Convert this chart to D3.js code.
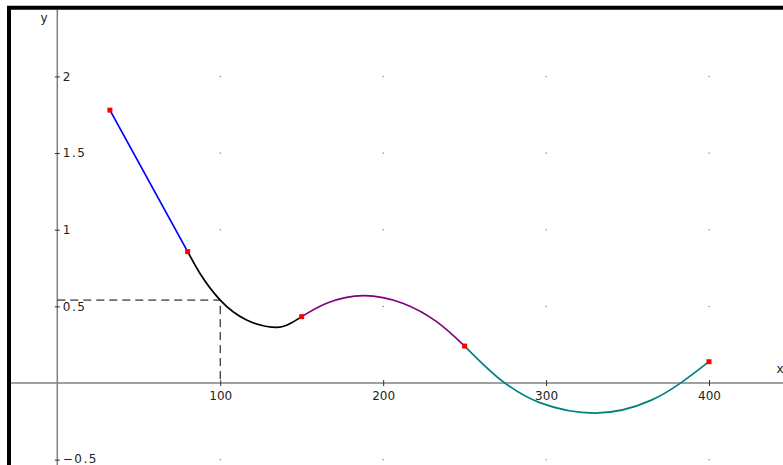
<!DOCTYPE html>
<html>
<head>
<meta charset="utf-8">
<script src="https://cdn.jsdelivr.net/npm/d3@7"></script>
<style>
  body { margin: 0; background: #fff; }
  svg { display: block; font-family: "DejaVu Sans", sans-serif; }
</style>
</head>
<body>
<div id="chart"></div>
<script>
// Chart size
const width = 783, height = 465;

// Tick values
const xTicks = [100, 200, 300, 400];
const yTicks = [-0.5, 0.5, 1, 1.5, 2];
const yTickLabels = ["\u22120.5", "0.5", "1", "1.5", "2"];

// Knots (red squares)
const knotX = [32.3, 80, 150, 250, 400];
const knotY = [1.78, 0.857, 0.433, 0.241, 0.139];

// Pieces
const seg1X = [32.3, 80];
const seg1Y = [1.78, 0.857];
const seg2X = [80, 87.5, 100, 116.2, 134.8, 150];
const seg2Y = [0.857, 0.716, 0.541, 0.411, 0.363, 0.433];
const seg3X = [150, 165.3, 188, 212, 232.8, 250];
const seg3Y = [0.433, 0.52, 0.57, 0.52, 0.40, 0.241];
const seg4X = [250, 274.7, 296.1, 330, 365, 400];
const seg4Y = [0.241, 0, -0.128, -0.196, -0.11, 0.139];
const segColors = ["#0000ff", "#000000", "#800080", "#008080"];

// Dashed guide at x = 100
const guideX = 100, guideY = 0.541;

const svg = d3.select("#chart").append("svg")
  .attr("width", width)
  .attr("height", height);

const x = d3.scaleLinear().domain([0, 400]).range([57.3, 709]);
const y = d3.scaleLinear().domain([0, 2]).range([383, 76.4]);

// Frame (top and left thick lines)
svg.append("line").attr("x1", 7).attr("x2", width).attr("y1", 7.7).attr("y2", 7.7)
  .attr("stroke", "#000").attr("stroke-width", 4);
svg.append("line").attr("x1", 9).attr("x2", 9).attr("y1", 6).attr("y2", height)
  .attr("stroke", "#000").attr("stroke-width", 4);

// Grid dots
const dotX = [100, 200, 300, 400];
const dotY = [-0.5, 0.5, 1, 1.5, 2];
svg.append("g").selectAll("rect")
  .data(d3.cross(dotX, dotY))
  .join("rect")
  .attr("x", d => x(d[0]) - 0.5)
  .attr("y", d => y(d[1]) - 0.5)
  .attr("width", 1.2)
  .attr("height", 1.2)
  .attr("fill", "#777");

// Axis lines
svg.append("line").attr("x1", 11).attr("x2", width).attr("y1", y(0)).attr("y2", y(0))
  .attr("stroke", "#808080").attr("stroke-width", 1.5);
svg.append("line").attr("x1", x(0)).attr("x2", x(0)).attr("y1", 10).attr("y2", height)
  .attr("stroke", "#808080").attr("stroke-width", 1.5);

// X axis ticks
const xAxis = svg.append("g")
  .attr("transform", `translate(0,${y(0)})`)
  .call(d3.axisBottom(x).tickValues(xTicks).tickSize(3).tickPadding(5));
xAxis.select(".domain").remove();
xAxis.selectAll(".tick line").attr("y1", -3).attr("stroke", "#333");
xAxis.selectAll(".tick text")
  .attr("font-size", 12).attr("fill", "#222")
  .attr("font-family", "DejaVu Sans, sans-serif");

// Y axis ticks
const yAxis = svg.append("g")
  .attr("transform", `translate(${x(0)},0)`)
  .call(d3.axisRight(y).tickValues(yTicks).tickSize(2.5).tickPadding(3)
    .tickFormat((d, i) => yTickLabels[i]));
yAxis.select(".domain").remove();
yAxis.selectAll(".tick line").attr("x1", -2.5).attr("stroke", "#333");
yAxis.selectAll(".tick text")
  .attr("font-size", 12).attr("fill", "#222")
  .attr("letter-spacing", d => Number.isInteger(d) ? 0 : 1.5)
  .attr("font-family", "DejaVu Sans, sans-serif");
yAxis.selectAll(".tick text").filter(d => d < 0).attr("dy", "0.2em");

// Axis names
svg.append("text").attr("x", 44).attr("y", 22).attr("text-anchor", "middle")
  .attr("font-size", 12).attr("fill", "#222").text("y");
svg.append("text").attr("x", 780).attr("y", 373).attr("text-anchor", "middle")
  .attr("font-size", 12).attr("fill", "#222").text("x");

// Dashed guide lines
svg.append("path")
  .attr("d", `M${x(0)},${y(guideY)}H${x(guideX)}V${y(0)}`)
  .attr("fill", "none")
  .attr("stroke", "#000")
  .attr("stroke-width", 1)
  .attr("stroke-dasharray", "8,5");

// Curve pieces
const segs = [[seg1X, seg1Y], [seg2X, seg2Y], [seg3X, seg3Y], [seg4X, seg4Y]];
const line = d3.line().x(d => x(d[0])).y(d => y(d[1])).curve(d3.curveMonotoneX);
svg.append("g").selectAll("path")
  .data(segs)
  .join("path")
  .attr("d", d => line(d3.zip(d[0], d[1])))
  .attr("fill", "none")
  .attr("stroke", (d, i) => segColors[i])
  .attr("stroke-width", 1.7);

// Knots
svg.append("g").selectAll("rect")
  .data(d3.zip(knotX, knotY))
  .join("rect")
  .attr("x", d => x(d[0]) - 2.5)
  .attr("y", d => y(d[1]) - 2.5)
  .attr("width", 5)
  .attr("height", 5)
  .attr("fill", "#ff0000");
</script>
</body>
</html>
